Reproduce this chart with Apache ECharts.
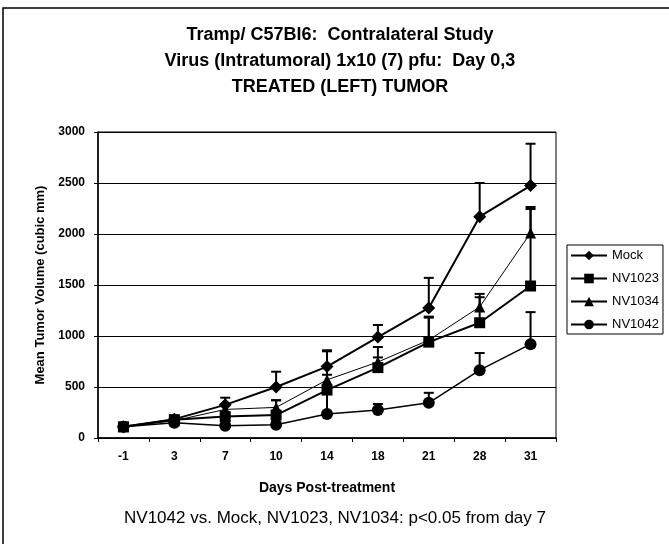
<!DOCTYPE html>
<html>
<head>
<meta charset="utf-8">
<title>Tramp/ C57Bl6: Contralateral Study</title>
<script src="https://cdn.jsdelivr.net/npm/echarts@6/dist/echarts.min.js"></script>
<style>
  html, body { margin: 0; padding: 0; background: #fff; }
  #container { width: 669px; height: 544px; }
</style>
</head>
<body>
<div id="container"></div>
<script>
// days post-treatment (category labels)
var days = ['-1', '3', '7', '10', '14', '18', '21', '28', '31'];
var yTicks = [0, 500, 1000, 1500, 2000, 2500, 3000];

// mean tumor volume (cubic mm)
var mock   = [110, 185, 325, 500, 700, 990, 1275, 2170, 2475];
var nv1023 = [110, 180, 210, 225, 470, 690, 940, 1130, 1490];
var nv1034 = [110, 170, 280, 300, 570, 745, 960, 1285, 2010];
var nv1042 = [110, 150, 120, 130, 235, 275, 345, 665, 920];

// upper error (SEM) for each point
var mockErr   = [0, 20, 70, 150, 150, 118, 295, 330, 410];
var nv1023Err = [0, 15, 40, 145, 150, 100, 240, 250, 755];
var nv1034Err = [0, 15, 50, 70, 290, 147, 230, 128, 255];
var nv1042Err = [0, 10, 20, 30, 215, 58, 98, 168, 314];

var font = 'Liberation Sans, Arial, sans-serif';

function errData(vals, errs) {
  var out = [];
  for (var i = 0; i < vals.length; i++) {
    out.push([i, vals[i], vals[i] + errs[i]]);
  }
  return out;
}

function errSeries(vals, errs) {
  return {
    type: 'custom',
    silent: true,
    z: 1,
    data: errData(vals, errs),
    encode: { x: 0, y: [1, 2] },
    renderItem: function (params, api) {
      var p0 = api.coord([api.value(0), api.value(1)]);
      var p1 = api.coord([api.value(0), api.value(2)]);
      if (p0[1] - p1[1] < 1) return null;
      var style = { stroke: '#000', lineWidth: 2 };
      return {
        type: 'group',
        children: [
          { type: 'line', shape: { x1: p0[0], y1: p0[1], x2: p1[0], y2: p1[1] }, style: style },
          { type: 'line', shape: { x1: p1[0] - 5, y1: p1[1], x2: p1[0] + 5, y2: p1[1] }, style: style }
        ]
      };
    }
  };
}

function lineSeries(name, vals, symbol, size, width) {
  return {
    name: name,
    type: 'line',
    data: vals,
    z: 3,
    symbol: symbol,
    symbolSize: size,
    itemStyle: { color: '#000' },
    lineStyle: { color: '#000', width: width },
    animation: false
  };
}

var myChart = echarts.init(document.getElementById('container'));

var option = {
  animation: false,
  backgroundColor: '#fff',
  textStyle: { fontFamily: font, color: '#000' },
  graphic: [
    {
      type: 'rect',
      shape: { x: 3, y: 8, width: 700, height: 600 },
      style: { fill: 'none', stroke: '#000', lineWidth: 1.5 }
    },
    {
      type: 'text',
      x: 340, y: 22,
      style: {
        text: 'Tramp/ C57Bl6:  Contralateral Study\nVirus (Intratumoral) 1x10 (7) pfu:  Day 0,3\nTREATED (LEFT) TUMOR',
        textAlign: 'center',
        font: 'bold 18px ' + font,
        lineHeight: 26,
        fill: '#000'
      }
    },
    {
      type: 'text',
      x: 335, y: 510,
      style: {
        text: 'NV1042 vs. Mock, NV1023, NV1034: p<0.05 from day 7',
        textAlign: 'center',
        font: '17px ' + font,
        fill: '#000'
      }
    }
  ],
  legend: {
    data: ['Mock', 'NV1023', 'NV1034', 'NV1042'],
    orient: 'vertical',
    left: 567,
    top: 245,
    itemWidth: 36,
    itemHeight: 12,
    itemGap: 10,
    padding: [4, 4, 3, 3],
    borderColor: '#000',
    borderWidth: 1,
    textStyle: { fontFamily: font, fontSize: 13, color: '#000' }
  },
  grid: {
    left: 98,
    right: 113,
    top: 132,
    bottom: 106,
    show: true,
    borderColor: '#000',
    borderWidth: 1
  },
  xAxis: {
    type: 'category',
    data: days,
    boundaryGap: true,
    name: 'Days Post-treatment',
    nameLocation: 'middle',
    nameGap: 43,
    nameTextStyle: { fontFamily: font, fontSize: 14, fontWeight: 'bold', color: '#000' },
    axisLine: { lineStyle: { color: '#000', width: 1.5 } },
    axisTick: { show: true, length: 4, lineStyle: { color: '#000' } },
    axisLabel: { fontFamily: font, fontSize: 12, fontWeight: 'bold', color: '#000', margin: 13 },
    splitLine: { show: false }
  },
  yAxis: {
    type: 'value',
    min: yTicks[0],
    max: yTicks[yTicks.length - 1],
    interval: 500,
    name: 'Mean Tumor Volume (cubic mm)',
    nameLocation: 'middle',
    nameGap: 50,
    nameTextStyle: { fontFamily: font, fontSize: 13, fontWeight: 'bold', color: '#000' },
    axisLine: { show: true, lineStyle: { color: '#000', width: 1.5 } },
    axisTick: { show: true, length: 4, lineStyle: { color: '#000' } },
    axisLabel: {
      fontFamily: font, fontSize: 12, fontWeight: 'bold', color: '#000', margin: 13,
      formatter: function (v) { return String(v); }
    },
    splitLine: { show: true, lineStyle: { color: '#000', width: 1 } }
  },
  series: [
    errSeries(mock, mockErr),
    errSeries(nv1023, nv1023Err),
    errSeries(nv1034, nv1034Err),
    errSeries(nv1042, nv1042Err),
    lineSeries('Mock', mock, 'diamond', 13, 2),
    lineSeries('NV1023', nv1023, 'rect', 11, 2),
    lineSeries('NV1034', nv1034, 'triangle', 11, 1),
    lineSeries('NV1042', nv1042, 'circle', 12, 1.5)
  ]
};

myChart.setOption(option);
</script>
</body>
</html>
